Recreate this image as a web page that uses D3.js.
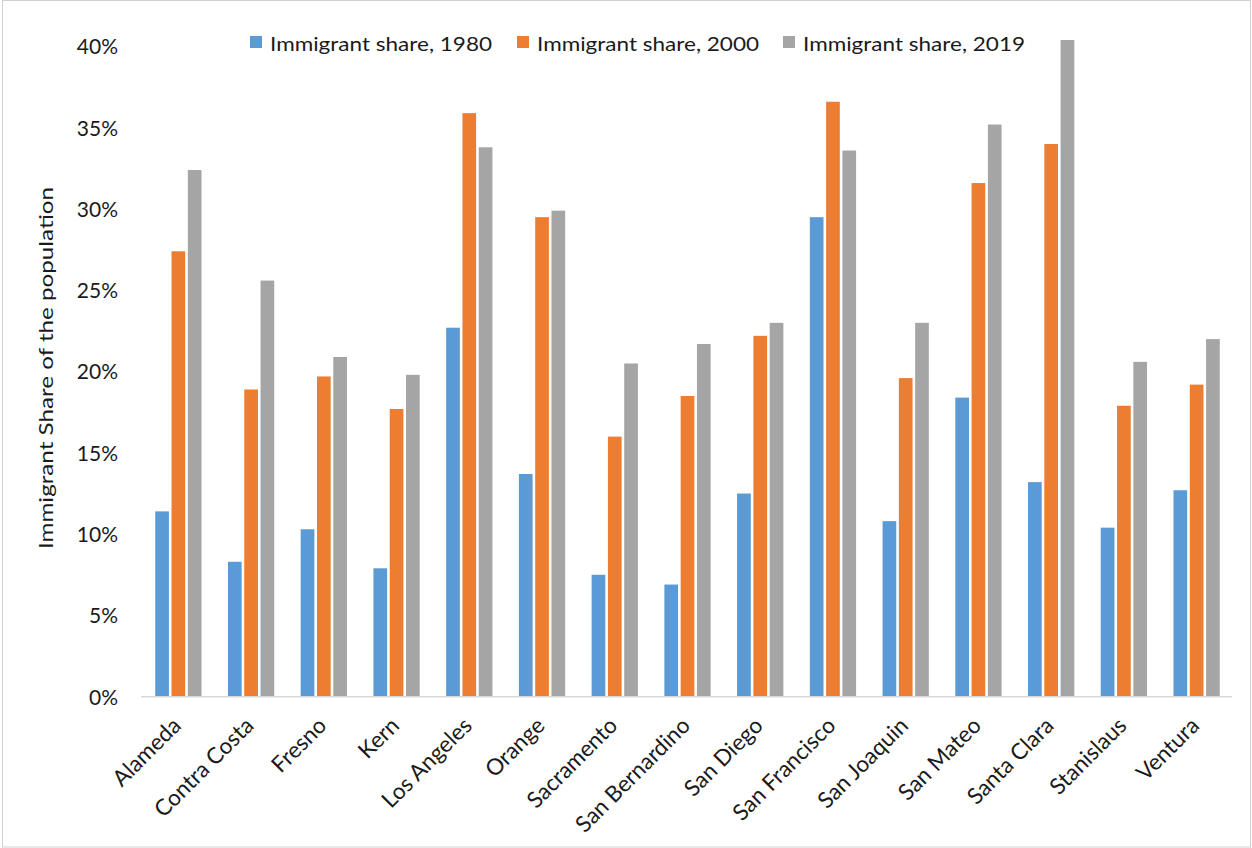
<!DOCTYPE html>
<html>
<head>
<meta charset="utf-8">
<script src="https://cdn.jsdelivr.net/npm/d3@7"></script>
<style>
  html, body { margin: 0; padding: 0; background: #fff; }
  svg { display: block; }
  text { font-family: Lato, "Open Sans", sans-serif; fill: #1a1a1a; }
</style>
</head>
<body>
<svg id="chart" width="1252" height="848"></svg>
<script>
// California counties: immigrant share of the population (%)
const counties = ["Alameda", "Contra Costa", "Fresno", "Kern", "Los Angeles", "Orange",
  "Sacramento", "San Bernardino", "San Diego", "San Francisco", "San Joaquin",
  "San Mateo", "Santa Clara", "Stanislaus", "Ventura"];

const share1980 = [11.4, 8.3, 10.3, 7.9, 22.7, 13.7, 7.5, 6.9, 12.5, 29.5, 10.8, 18.4, 13.2, 10.4, 12.7];
const share2000 = [27.4, 18.9, 19.7, 17.7, 35.9, 29.5, 16.0, 18.5, 22.2, 36.6, 19.6, 31.6, 34.0, 17.9, 19.2];
const share2019 = [32.4, 25.6, 20.9, 19.8, 33.8, 29.9, 20.5, 21.7, 23.0, 33.6, 23.0, 35.2, 40.4, 20.6, 22.0];

const seriesNames = ["Immigrant share, 1980", "Immigrant share, 2000", "Immigrant share, 2019"];
const seriesColors = ["#5B9BD5", "#ED7D31", "#A5A5A5"];
const yTicks = [0, 5, 10, 15, 20, 25, 30, 35, 40];
const yTitle = "Immigrant Share of the population";

const series = [share1980, share2000, share2019];

const svg = d3.select("#chart");
const W = 1252, H = 848;

// outer frame
svg.append("rect")
  .attr("x", 2.5).attr("y", 0.5)
  .attr("width", W - 4).attr("height", H - 1.5)
  .attr("fill", "#fff").attr("stroke", "#d0d0d0").attr("stroke-width", 1);

const plot = { left: 141, right: 1232, top: 46.5, bottom: 696.7 };

const x = d3.scaleBand().domain(counties).range([plot.left, plot.right]).padding(0);
const y = d3.scaleLinear().domain([0, 40]).range([plot.bottom, plot.top]);

// bars
const pitch = x.bandwidth() * 0.224;
const groupW = pitch * 3;
const inner = d3.scaleBand().domain([0, 1, 2]).range([0, groupW]).padding(0);

const groups = svg.append("g").selectAll("g")
  .data(counties)
  .join("g")
  .attr("transform", d => `translate(${x(d) + (x.bandwidth() - groupW) / 2 + 1},0)`);

groups.selectAll("rect")
  .data((d, i) => series.map((s, k) => ({ k, v: s[i] })))
  .join("rect")
  .attr("x", d => inner(d.k) + 1.3)
  .attr("width", inner.bandwidth() - 2.6)
  .attr("y", d => y(d.v))
  .attr("height", d => y(0) - y(d.v))
  .attr("fill", d => seriesColors[d.k]);

// category axis line
svg.append("line")
  .attr("x1", plot.left).attr("x2", plot.right)
  .attr("y1", y(0)).attr("y2", y(0))
  .attr("stroke", "#d9d9d9").attr("stroke-width", 1.5);

// y axis labels
const yAxis = d3.axisLeft(y).tickValues(yTicks).tickFormat(d => d + "%").tickSize(0).tickPadding(0);
const yg = svg.append("g").attr("transform", `translate(118,0)`).call(yAxis);
yg.select(".domain").remove();
yg.selectAll("text")
  .style("font-family", "Lato, 'Open Sans', sans-serif")
  .style("font-size", "21px")
  .attr("fill", "#1a1a1a")
  .attr("dy", "0.35em");

// category labels, rotated
const xAxis = d3.axisBottom(x).tickSize(0).tickPadding(0);
const xg = svg.append("g").call(xAxis);
xg.select(".domain").remove();
xg.selectAll(".tick").attr("transform", d => `translate(${x(d) + x.bandwidth() / 2 + 5},727)`);
xg.selectAll("text")
  .attr("y", 0).attr("dy", 0)
  .attr("text-anchor", "end")
  .attr("transform", "rotate(-45)")
  .style("font-family", "Lato, 'Open Sans', sans-serif")
  .style("font-size", "22.5px")
  .attr("fill", "#1a1a1a");

// y axis title
svg.append("text")
  .attr("transform", "translate(53,368) rotate(-90)")
  .attr("text-anchor", "middle")
  .attr("textLength", 362)
  .attr("lengthAdjust", "spacingAndGlyphs")
  .style("font-size", "20px")
  .text(yTitle);

// legend
const legendX = [250, 517, 783];
const lg = svg.append("g").selectAll("g")
  .data(seriesNames)
  .join("g")
  .attr("transform", (d, i) => `translate(${legendX[i]},0)`);
lg.append("rect")
  .attr("x", 0).attr("y", 36).attr("width", 12).attr("height", 12)
  .attr("fill", (d, i) => seriesColors[i]);
lg.append("text")
  .attr("x", 20).attr("y", 50.5)
  .attr("textLength", 222)
  .attr("lengthAdjust", "spacingAndGlyphs")
  .style("font-size", "20px")
  .text(d => d);
</script>
</body>
</html>
